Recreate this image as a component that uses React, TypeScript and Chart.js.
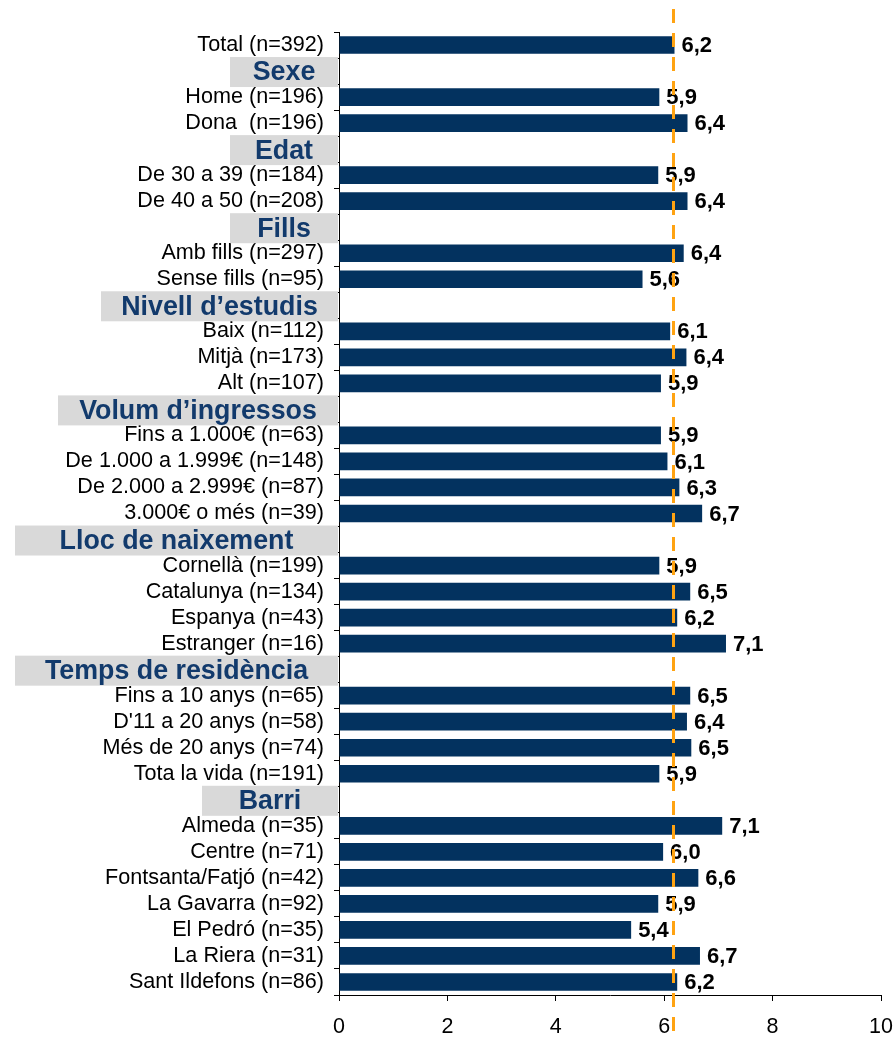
import React, { useEffect, useRef } from "react";
import { Chart, registerables } from "chart.js";

Chart.register(...registerables);

// ---------- data ----------
const categories: string[] = [
  "Total (n=392)",
  "Sexe",
  "Home (n=196)",
  "Dona  (n=196)",
  "Edat",
  "De 30 a 39 (n=184)",
  "De 40 a 50 (n=208)",
  "Fills",
  "Amb fills (n=297)",
  "Sense fills (n=95)",
  "Nivell d’estudis",
  "Baix (n=112)",
  "Mitjà (n=173)",
  "Alt (n=107)",
  "Volum d’ingressos",
  "Fins a 1.000€ (n=63)",
  "De 1.000 a 1.999€ (n=148)",
  "De 2.000 a 2.999€ (n=87)",
  "3.000€ o més (n=39)",
  "Lloc de naixement",
  "Cornellà (n=199)",
  "Catalunya (n=134)",
  "Espanya (n=43)",
  "Estranger (n=16)",
  "Temps de residència",
  "Fins a 10 anys (n=65)",
  "D'11 a 20 anys (n=58)",
  "Més de 20 anys (n=74)",
  "Tota la vida (n=191)",
  "Barri",
  "Almeda (n=35)",
  "Centre (n=71)",
  "Fontsanta/Fatjó (n=42)",
  "La Gavarra (n=92)",
  "El Pedró (n=35)",
  "La Riera (n=31)",
  "Sant Ildefons (n=86)",
];

const headerRows: string[] = [
  "Sexe",
  "Edat",
  "Fills",
  "Nivell d’estudis",
  "Volum d’ingressos",
  "Lloc de naixement",
  "Temps de residència",
  "Barri",
];

const values: (number | null)[] = [
  6.19,
  null, 5.91, 6.43,
  null, 5.89, 6.43,
  null, 6.36, 5.6,
  null, 6.11, 6.41, 5.94,
  null, 5.94, 6.06, 6.28, 6.7,
  null, 5.91, 6.48, 6.24, 7.14,
  null, 6.48, 6.42, 6.5, 5.91,
  null, 7.07, 5.98, 6.63, 5.89, 5.39, 6.66, 6.24,
];

const averageValue = 6.16;

const xTicks: number[] = [0, 2, 4, 6, 8, 10];

// ---------- styles ----------
const FONT = "'Liberation Sans', Arial, Helvetica, sans-serif";
const BAR_COLOR = "#03325F";
const HEADER_TEXT = "#123A6C";
const HEADER_BG = "#D9D9D9";
const LINE_COLOR = "#FFA312";
const headerBoxWidth: Record<string, number> = {
  "Sexe": 108,
  "Edat": 108,
  "Fills": 108,
  "Nivell d’estudis": 237,
  "Volum d’ingressos": 280,
  "Lloc de naixement": 323,
  "Temps de residència": 323,
  "Barri": 136,
};

const fmt = (v: number) => v.toFixed(1).replace(".", ",");

const valueLabelPlugin = {
  id: "valueLabels",
  afterDatasetsDraw(chart: any) {
    const ctx = chart.ctx;
    const meta = chart.getDatasetMeta(0);
    ctx.save();
    ctx.font = `bold 22px ${FONT}`;
    ctx.fillStyle = "#000";
    ctx.textAlign = "left";
    ctx.textBaseline = "middle";
    meta.data.forEach((el: any, i: number) => {
      const v = values[i];
      if (v === null || v === undefined) return;
      ctx.fillText(fmt(v), el.x + 7, el.y + 1);
    });
    ctx.restore();
  },
};

const headerAndLinePlugin = {
  id: "headerAndLine",
  afterDraw(chart: any) {
    const ctx = chart.ctx;
    const yScale = chart.scales.y;
    const xScale = chart.scales.x;
    const area = chart.chartArea;
    ctx.save();
    // header boxes
    categories.forEach((c, i) => {
      if (!headerRows.includes(c)) return;
      const y = yScale.getPixelForValue(i);
      const right = area.left - 1;
      const w = headerBoxWidth[c] ?? 120;
      ctx.fillStyle = HEADER_BG;
      ctx.fillRect(right - w, y - 14, w, 30);
      ctx.fillStyle = HEADER_TEXT;
      ctx.font = `bold 26.8px ${FONT}`;
      ctx.textAlign = "center";
      ctx.textBaseline = "middle";
      ctx.fillText(c, right - w / 2, y + 2);
    });
    // dashed average line
    const x = Math.round(xScale.getPixelForValue(averageValue)) + 0.5;
    ctx.strokeStyle = LINE_COLOR;
    ctx.lineWidth = 3;
    ctx.setLineDash([14, 10]);
    ctx.beginPath();
    ctx.moveTo(x, area.top - 23);
    ctx.lineTo(x, area.bottom + 36);
    ctx.stroke();
    ctx.restore();
  },
};

export default function App() {
  const canvasRef = useRef<HTMLCanvasElement | null>(null);

  useEffect(() => {
    if (!canvasRef.current) return;
    const chart = new Chart(canvasRef.current, {
      type: "bar",
      data: {
        labels: categories,
        datasets: [
          {
            data: values as any,
            backgroundColor: BAR_COLOR,
            borderWidth: 0,
            categoryPercentage: 1,
            barPercentage: 0.68,
          },
        ],
      },
      options: {
        indexAxis: "y",
        animation: false,
        responsive: true,
        maintainAspectRatio: false,
        layout: { padding: { top: 32, right: 13, bottom: 0, left: 0 } },
        plugins: {
          legend: { display: false },
          tooltip: { enabled: false },
          title: { display: false },
        },
        scales: {
          x: {
            type: "linear",
            min: 0,
            max: 10,
            afterBuildTicks: (scale: any) => {
              scale.ticks = xTicks.map((v) => ({ value: v }));
            },
            afterFit: (scale: any) => {
              scale.height = 42;
              scale.paddingLeft = 0;
              scale.paddingRight = 0;
            },
            ticks: {
              color: "#000",
              font: { family: FONT, size: 21.5 },
              padding: 13,
              callback: (v: any) => String(v),
            },
            grid: {
              display: true,
              drawOnChartArea: false,
              drawTicks: true,
              tickLength: 6,
              color: "#000",
              lineWidth: 1,
            },
            border: { display: true, color: "#000", width: 1 },
          },
          y: {
            type: "category",
            afterFit: (scale: any) => {
              scale.width = 339;
              scale.paddingTop = 0;
              scale.paddingBottom = 0;
            },
            ticks: {
              autoSkip: false,
              color: "#000",
              font: { family: FONT, size: 21.6 },
              padding: 10,
              callback: (_v: any, i: number) =>
                headerRows.includes(categories[i]) ? "" : categories[i],
            },
            grid: {
              display: true,
              offset: true,
              drawOnChartArea: false,
              drawTicks: true,
              tickLength: 5,
              color: "#000",
              lineWidth: 1,
            },
            border: { display: true, color: "#000", width: 1 },
          },
        },
      },
      plugins: [valueLabelPlugin, headerAndLinePlugin],
    });
    return () => chart.destroy();
  }, []);

  return (
    <div
      style={{
        position: "fixed",
        left: 0,
        top: 0,
        width: 894,
        height: 1037,
        background: "#fff",
      }}
    >
      <canvas ref={canvasRef} />
    </div>
  );
}
